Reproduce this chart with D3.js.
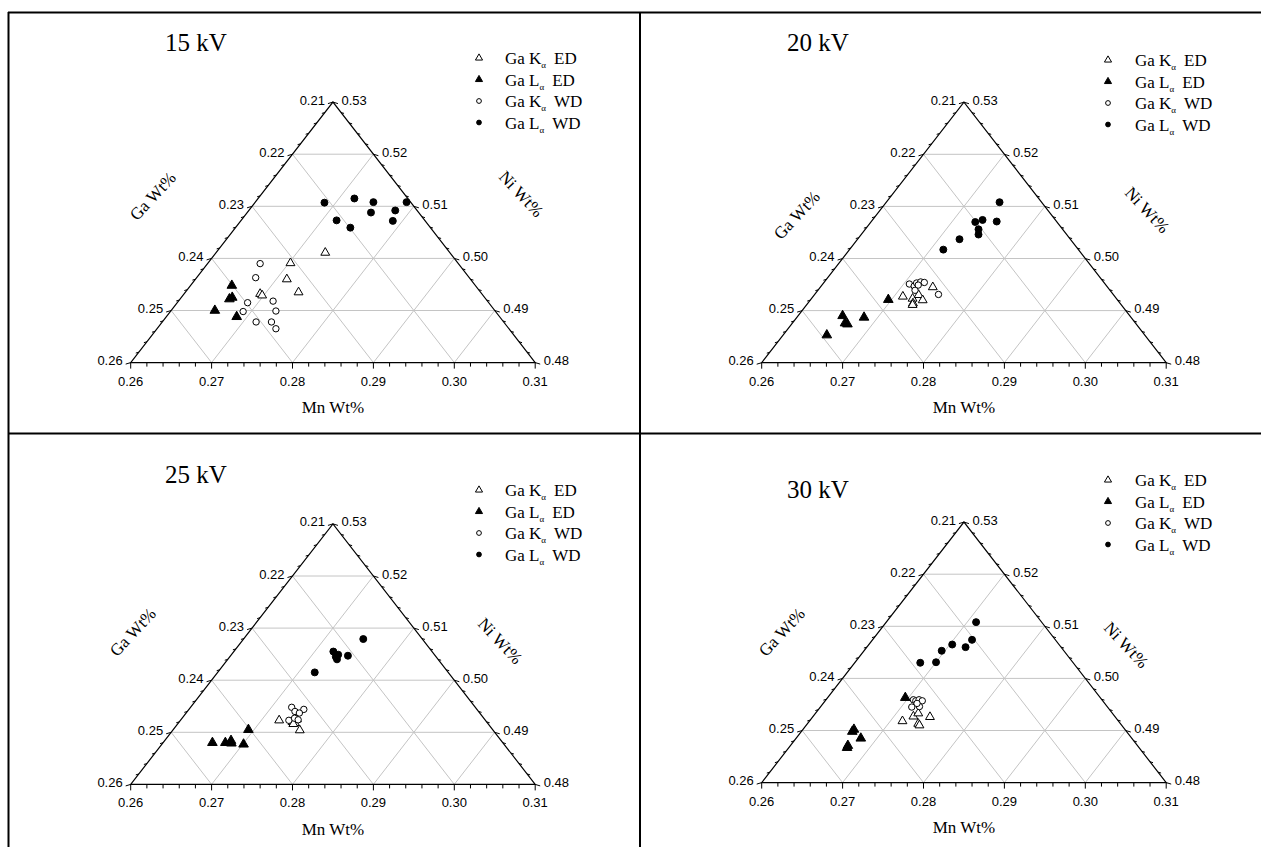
<!DOCTYPE html>
<html>
<head>
<meta charset="utf-8">
<script src="https://cdn.jsdelivr.net/npm/d3@7"></script>
<style>
  html, body { margin: 0; padding: 0; background: #fff; }
  svg { display: block; }
  .tick-label { font-family: "Liberation Sans", Arial, sans-serif; font-size: 13px; fill: #000; }
  .serif { font-family: "Liberation Serif", "Times New Roman", serif; fill: #000; }
</style>
</head>
<body>
<svg id="chart" width="1261" height="847"></svg>
<script>
// Panel titles (accelerating voltage)
const panel_titles = ["15 kV", "20 kV", "25 kV", "30 kV"];

// Legend entries: X-ray line and detector
const series_lines = ["K", "L", "K", "L"];
const series_detectors = ["ED", "ED", "WD", "WD"];

// Axis ranges (weight fraction), Ni = 1 - Mn - Ga
const mn_ticks = [0.26, 0.27, 0.28, 0.29, 0.30, 0.31];
const ga_ticks = [0.21, 0.22, 0.23, 0.24, 0.25, 0.26];
const ni_ticks = [0.48, 0.49, 0.50, 0.51, 0.52, 0.53];

// Points as [Mn, Ga]
const kv15_ka_ed = [[0.2735, 0.2254], [0.2702, 0.2307], [0.2713, 0.2327], [0.2740, 0.2325], [0.2694, 0.2374], [0.2698, 0.2373]];
const kv15_la_ed = [[0.2651, 0.2401], [0.2661, 0.2417], [0.2663, 0.2412], [0.2654, 0.2446], [0.2687, 0.2425]];
const kv15_ka_wd = [[0.2665, 0.2345], [0.2673, 0.2364], [0.2687, 0.2398], [0.2717, 0.2365], [0.2690, 0.2412], [0.2730, 0.2371], [0.2716, 0.2406], [0.2735, 0.2387], [0.2747, 0.2388]];
const kv15_la_wd = [[0.2686, 0.2207], [0.2719, 0.2166], [0.2746, 0.2146], [0.2787, 0.2105], [0.2781, 0.2127], [0.2753, 0.2159], [0.2788, 0.2140], [0.2718, 0.2209], [0.2742, 0.2199]];

const kv20_ka_ed = [[0.2711, 0.2362], [0.2725, 0.2352], [0.2730, 0.2356], [0.2731, 0.2358], [0.2729, 0.2341], [0.2739, 0.2341], [0.2739, 0.2316]];
const kv20_la_ed = [[0.2696, 0.2383], [0.2655, 0.2455], [0.2665, 0.2459], [0.2669, 0.2457], [0.2683, 0.2430], [0.2654, 0.2493]];
const kv20_ka_wd = [[0.2707, 0.2342], [0.2715, 0.2338], [0.2715, 0.2332], [0.2719, 0.2326], [0.2724, 0.2322], [0.2720, 0.2341], [0.2719, 0.2332], [0.2753, 0.2316]];
const kv20_la_wd = [[0.2740, 0.2152], [0.2729, 0.2201], [0.2736, 0.2190], [0.2755, 0.2174], [0.2740, 0.2204], [0.2745, 0.2209], [0.2726, 0.2237], [0.2716, 0.2267]];

const kv25_ka_ed = [[0.2722, 0.2355], [0.2740, 0.2340], [0.2744, 0.2338], [0.2743, 0.2332], [0.2757, 0.2339], [0.2743, 0.2341]];
const kv25_la_ed = [[0.2661, 0.2459], [0.2677, 0.2443], [0.2682, 0.2434], [0.2685, 0.2436], [0.2701, 0.2422], [0.2693, 0.2402]];
const kv25_ka_wd = [[0.2725, 0.2327], [0.2733, 0.2327], [0.2742, 0.2314], [0.2740, 0.2323], [0.2734, 0.2343], [0.2739, 0.2334], [0.2745, 0.2331]];
const kv25_la_wd = [[0.2748, 0.2173], [0.2723, 0.2222], [0.2731, 0.2224], [0.2735, 0.2225], [0.2732, 0.2219], [0.2745, 0.2208], [0.2720, 0.2265]];

const kv30_ka_ed = [[0.2715, 0.2367], [0.2724, 0.2349], [0.2727, 0.2340], [0.2745, 0.2329], [0.2737, 0.2350], [0.2740, 0.2350]];
const kv30_la_ed = [[0.2696, 0.2341], [0.2663, 0.2435], [0.2663, 0.2439], [0.2680, 0.2435], [0.2672, 0.2461], [0.2671, 0.2458]];
const kv30_ka_wd = [[0.2708, 0.2333], [0.2712, 0.2331], [0.2715, 0.2326], [0.2720, 0.2323], [0.2713, 0.2342], [0.2722, 0.2332], [0.2716, 0.2332]];
const kv30_la_wd = [[0.2711, 0.2181], [0.2723, 0.2203], [0.2722, 0.2218], [0.2703, 0.2232], [0.2696, 0.2251], [0.2700, 0.2269], [0.2681, 0.2289]];

const panel_data = [
  [kv15_ka_ed, kv15_la_ed, kv15_ka_wd, kv15_la_wd],
  [kv20_ka_ed, kv20_la_ed, kv20_ka_wd, kv20_la_wd],
  [kv25_ka_ed, kv25_la_ed, kv25_ka_wd, kv25_la_wd],
  [kv30_ka_ed, kv30_la_ed, kv30_ka_wd, kv30_la_wd],
];

// Layout of each panel (pixels)
const tri_w = 404.5, tri_h = 260.5;
const layout = [
  {x0: 130.7, y0: 362.6, title: [165, 51], legend: [479, 505, 58], ga_title: [157, 195], ni_title: [517, 193]},
  {x0: 761.7, y0: 362.7, title: [787, 51], legend: [1108, 1135, 60], ga_title: [801, 214], ni_title: [1143, 209]},
  {x0: 130.7, y0: 784.4, title: [165, 483], legend: [479, 505, 490], ga_title: [137, 631], ni_title: [496, 640]},
  {x0: 761.7, y0: 782.6, title: [787, 498], legend: [1108, 1135, 480], ga_title: [786, 631], ni_title: [1122, 644]},
];

const mn_min = mn_ticks[0], ga_min = ga_ticks[0], ni_min = ni_ticks[0];
const span = 0.05;
const fmt = d3.format(".2f");

const svg = d3.select("#chart");

// Frame lines around the panels
const frame = [[8, 12.5, 1261, 12.5], [8.5, 12, 8.5, 847], [640, 12, 640, 847], [8, 433.5, 1261, 433.5]];
svg.selectAll("line.frame").data(frame).enter().append("line")
  .attr("class", "frame")
  .attr("x1", d => d[0]).attr("y1", d => d[1])
  .attr("x2", d => d[2]).attr("y2", d => d[3])
  .attr("stroke", "#000").attr("stroke-width", 2);

function symbol_for(i, size) {
  let type = (i < 2) ? d3.symbolTriangle : d3.symbolCircle;
  return d3.symbol().type(type).size(size)();
}

function draw_panel(p) {
  let lay = layout[p];
  let g = svg.append("g");

  let x_scale = d3.scaleLinear().domain([0, span]).range([lay.x0, lay.x0 + tri_w]);
  let y_scale = d3.scaleLinear().domain([ni_min, ni_min + span]).range([lay.y0, lay.y0 - tri_h]);

  // ternary (Mn, Ga, Ni) -> screen
  let px = (mn, ni) => x_scale((mn - mn_min) + (ni - ni_min) / 2);
  let py = (ni) => y_scale(ni);
  let pt = (mn, ga) => {
    let ni = 1 - mn - ga;
    return [px(mn, ni), py(ni)];
  };

  // Grid lines
  let grid = [];
  d3.range(1, 5).forEach((k) => {
    let v = k * 0.01;
    let ni = ni_min + v;
    grid.push([pt(mn_min, 1 - ni - mn_min), pt(1 - ni - ga_min, ga_min)]);
    let mn = mn_min + v;
    grid.push([pt(mn, 1 - mn - ni_min), pt(mn, ga_min)]);
    let ga = ga_min + v;
    grid.push([pt(1 - ga - ni_min, ga), pt(mn_min, ga)]);
  });
  g.selectAll("line.grid").data(grid).enter().append("line")
    .attr("x1", d => d[0][0]).attr("y1", d => d[0][1])
    .attr("x2", d => d[1][0]).attr("y2", d => d[1][1])
    .attr("stroke", "#c4c4c4").attr("stroke-width", 1);

  // Triangle outline
  let corners = [pt(mn_min, ga_min + span), pt(mn_min + span, ga_min), pt(mn_min, ga_min)];
  g.append("path")
    .attr("d", d3.line()(corners) + "Z")
    .attr("fill", "none").attr("stroke", "#000").attr("stroke-width", 1.2);

  // Ticks every 0.002, labelled every 0.01
  let steps = d3.range(0, 26);
  steps.forEach((i) => {
    let v = i * 0.002;
    let major = i % 5 == 0;
    let len = major ? 5 : 3;
    // bottom (Mn)
    let b = pt(mn_min + v, 1 - mn_min - v - ni_min);
    g.append("line").attr("x1", b[0]).attr("y1", b[1]).attr("x2", b[0]).attr("y2", b[1] + len + 1)
      .attr("stroke", "#000");
    // left (Ga)
    let l = pt(mn_min, ga_min + v);
    g.append("line").attr("x1", l[0]).attr("y1", l[1]).attr("x2", l[0] - len).attr("y2", l[1] + len * 0.3)
      .attr("stroke", "#000");
    // right (Ni)
    let ni = ni_min + v;
    let r = pt(1 - ni - ga_min, ga_min);
    g.append("line").attr("x1", r[0]).attr("y1", r[1]).attr("x2", r[0] + len).attr("y2", r[1] + len * 0.3)
      .attr("stroke", "#000");
  });

  mn_ticks.forEach((t) => {
    let b = pt(t, 1 - t - ni_min);
    g.append("text").attr("class", "tick-label")
      .attr("x", b[0]).attr("y", b[1] + 23).attr("text-anchor", "middle").text(fmt(t));
  });
  ga_ticks.forEach((t) => {
    let l = pt(mn_min, t);
    g.append("text").attr("class", "tick-label")
      .attr("x", l[0] - 8).attr("y", l[1] + 2.5).attr("text-anchor", "end").text(fmt(t));
  });
  ni_ticks.forEach((t) => {
    let r = pt(1 - t - ga_min, ga_min);
    g.append("text").attr("class", "tick-label")
      .attr("x", r[0] + 8.5).attr("y", r[1] + 2.5).attr("text-anchor", "start").text(fmt(t));
  });

  // Axis titles
  g.append("text").attr("class", "serif").attr("font-size", 17)
    .attr("text-anchor", "middle")
    .attr("transform", `translate(${lay.ga_title[0]},${lay.ga_title[1] + 5}) rotate(-47)`)
    .text("Ga Wt%");
  g.append("text").attr("class", "serif").attr("font-size", 17)
    .attr("text-anchor", "middle")
    .attr("transform", `translate(${lay.ni_title[0]},${lay.ni_title[1] + 5}) rotate(47)`)
    .text("Ni Wt%");
  g.append("text").attr("class", "serif").attr("font-size", 17)
    .attr("text-anchor", "middle")
    .attr("x", x_scale(span / 2)).attr("y", lay.y0 + 50.5)
    .text("Mn Wt%");

  // Title
  g.append("text").attr("class", "serif").attr("font-size", 25)
    .attr("x", lay.title[0]).attr("y", lay.title[1]).text(panel_titles[p]);

  // Data points
  let sizes = [34, 40, 32, 38];
  panel_data[p].forEach((series, i) => {
    let filled = (i % 2 == 1);
    g.selectAll(null).data(series).enter().append("path")
      .attr("d", symbol_for(i, sizes[i]))
      .attr("transform", d => {
        let q = pt(d[0], d[1]);
        return `translate(${q[0]},${q[1]})`;
      })
      .attr("fill", filled ? "#000" : "#fff")
      .attr("stroke", "#000").attr("stroke-width", 1);
  });

  // Legend
  series_lines.forEach((line_name, i) => {
    let row_y = lay.legend[2] + i * 21.5;
    let filled = (i % 2 == 1);
    g.append("path")
      .attr("d", symbol_for(i, i < 2 ? 22 : 18))
      .attr("transform", `translate(${lay.legend[0]},${row_y})`)
      .attr("fill", filled ? "#000" : "#fff")
      .attr("stroke", "#000").attr("stroke-width", 1);
    let t = g.append("text").attr("class", "serif").attr("font-size", 17)
      .attr("x", lay.legend[1]).attr("y", row_y + 6);
    t.append("tspan").text("Ga " + line_name);
    t.append("tspan").attr("font-size", 9).attr("dy", 4).text("\u03b1");
    t.append("tspan").attr("dy", -4).attr("dx", 8).text(series_detectors[i]);
  });
}

panel_titles.forEach((title, p) => draw_panel(p));
</script>
</body>
</html>
